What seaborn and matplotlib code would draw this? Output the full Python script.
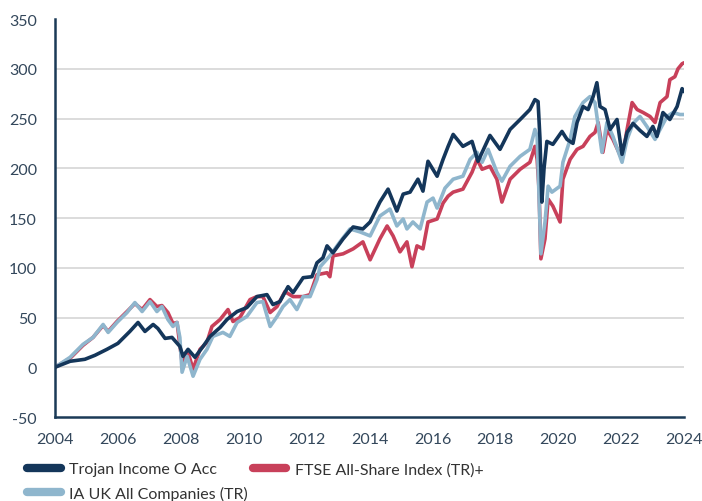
import matplotlib
matplotlib.use("Agg")
import matplotlib.pyplot as plt
import seaborn as sns
import pandas as pd

# ---- data ----
trojan_years = [2004.00, 2004.48, 2004.95, 2005.27, 2005.65, 2006.00, 2006.38, 2006.64, 2006.86, 2007.12,
                2007.27, 2007.50, 2007.72, 2007.97, 2008.07, 2008.23, 2008.45, 2008.71, 2008.93, 2009.25,
                2009.47, 2009.79, 2010.10, 2010.42, 2010.74, 2010.93, 2011.15, 2011.41, 2011.57, 2011.89,
                2012.17, 2012.33, 2012.52, 2012.65, 2012.84, 2013.16, 2013.48, 2013.79, 2014.02, 2014.33,
                2014.59, 2014.87, 2015.07, 2015.29, 2015.54, 2015.70, 2015.86, 2016.15, 2016.34, 2016.50,
                2016.66, 2016.97, 2017.26, 2017.45, 2017.83, 2018.15, 2018.47, 2018.79, 2019.10, 2019.26,
                2019.36, 2019.42, 2019.48, 2019.55, 2019.64, 2019.83, 2020.12, 2020.28, 2020.47, 2020.60,
                2020.79, 2020.95, 2021.11, 2021.23, 2021.33, 2021.49, 2021.65, 2021.87, 2022.03, 2022.19,
                2022.38, 2022.60, 2022.82, 2023.01, 2023.14, 2023.33, 2023.55, 2023.78, 2023.94, 2024.00]
trojan_values = [0, 6, 8, 12, 18, 24, 36, 45, 36, 43,
                 39, 29, 30, 21, 11, 18, 10, 21, 31, 40,
                 48, 56, 60, 71, 73, 63, 66, 81, 75, 90,
                 91, 105, 110, 122, 115, 129, 141, 139, 146, 166,
                 179, 157, 174, 176, 189, 177, 207, 192, 209, 222,
                 234, 222, 227, 207, 233, 219, 239, 249, 259, 269,
                 267, 230, 166, 200, 227, 224, 237, 229, 225, 246,
                 262, 259, 272, 286, 262, 259, 239, 249, 214, 236,
                 245, 238, 232, 242, 232, 256, 249, 262, 280, 277]

ia_years = [2004.00, 2004.48, 2004.89, 2005.21, 2005.53, 2005.69, 2005.97, 2006.29, 2006.54, 2006.77,
            2007.02, 2007.24, 2007.40, 2007.59, 2007.75, 2007.88, 2007.97, 2008.04, 2008.20, 2008.39,
            2008.61, 2008.83, 2009.02, 2009.34, 2009.56, 2009.79, 2010.10, 2010.42, 2010.61, 2010.84,
            2011.06, 2011.25, 2011.47, 2011.69, 2011.89, 2012.11, 2012.33, 2012.43, 2012.74, 2013.06,
            2013.38, 2013.70, 2014.02, 2014.33, 2014.65, 2014.87, 2015.07, 2015.19, 2015.38, 2015.61,
            2015.83, 2016.02, 2016.15, 2016.40, 2016.66, 2016.97, 2017.20, 2017.42, 2017.58, 2017.77,
            2018.05, 2018.21, 2018.47, 2018.79, 2019.10, 2019.26, 2019.33, 2019.39, 2019.45, 2019.58,
            2019.68, 2019.80, 2020.06, 2020.15, 2020.38, 2020.53, 2020.79, 2021.01, 2021.17, 2021.39,
            2021.55, 2021.74, 2022.03, 2022.19, 2022.38, 2022.60, 2022.82, 2023.08, 2023.24, 2023.46,
            2023.65, 2023.87, 2024.00]
ia_values = [0, 10, 23, 30, 43, 35, 45, 55, 65, 56,
             66, 56, 61, 48, 41, 45, 30, -5, 11, -9,
             8, 18, 31, 35, 31, 45, 51, 65, 66, 41,
             51, 61, 68, 58, 71, 71, 88, 101, 112, 126,
             139, 136, 132, 152, 159, 142, 149, 139, 146, 139,
             166, 170, 160, 180, 189, 192, 209, 216, 206, 219,
             196, 187, 202, 212, 219, 239, 232, 172, 114, 146,
             182, 176, 182, 206, 229, 252, 266, 272, 266, 216,
             246, 232, 206, 229, 245, 252, 242, 229, 239, 252,
             256, 254, 254]

ftse_years = [2004.00, 2004.48, 2004.89, 2005.21, 2005.53, 2005.69, 2005.97, 2006.29, 2006.54, 2006.77,
              2007.02, 2007.24, 2007.40, 2007.59, 2007.75, 2007.88, 2008.04, 2008.23, 2008.39, 2008.61,
              2008.83, 2008.99, 2009.25, 2009.50, 2009.66, 2009.88, 2010.20, 2010.42, 2010.61, 2010.84,
              2011.06, 2011.31, 2011.57, 2011.89, 2012.11, 2012.33, 2012.65, 2012.74, 2012.84, 2013.16,
              2013.48, 2013.79, 2014.02, 2014.33, 2014.56, 2014.75, 2014.97, 2015.19, 2015.35, 2015.51,
              2015.70, 2015.86, 2016.15, 2016.34, 2016.50, 2016.66, 2016.97, 2017.26, 2017.42, 2017.58,
              2017.83, 2018.05, 2018.21, 2018.47, 2018.79, 2019.10, 2019.26, 2019.33, 2019.39, 2019.45,
              2019.58, 2019.68, 2019.83, 2020.06, 2020.15, 2020.38, 2020.60, 2020.79, 2021.01, 2021.17,
              2021.27, 2021.42, 2021.55, 2021.74, 2022.03, 2022.19, 2022.35, 2022.51, 2022.70, 2022.92,
              2023.08, 2023.24, 2023.46, 2023.55, 2023.71, 2023.81, 2023.94, 2024.00]
ftse_values = [0, 9, 22, 30, 42, 36, 46, 56, 64, 58,
               68, 61, 62, 55, 44, 45, 5, 15, -2, 18,
               25, 41, 48, 58, 46, 50, 68, 71, 71, 55,
               61, 76, 71, 71, 73, 93, 95, 91, 112, 114,
               119, 126, 108, 129, 142, 132, 116, 126, 101, 122,
               119, 146, 149, 165, 172, 176, 179, 196, 209, 199,
               202, 189, 166, 189, 199, 206, 222, 209, 179, 109,
               129, 169, 162, 146, 189, 209, 219, 222, 232, 236,
               246, 216, 239, 229, 209, 239, 266, 259, 256, 252,
               246, 266, 272, 289, 292, 300, 305, 306]

series_names = ["Trojan Income O Acc", "FTSE All-Share Index (TR)+", "IA UK All Companies (TR)"]
series_colors = ["#14365a", "#c8405a", "#8fb6cd"]
y_ticks = [-50, 0, 50, 100, 150, 200, 250, 300, 350]
x_ticks = [2004, 2006, 2008, 2010, 2012, 2014, 2016, 2018, 2020, 2022, 2024]

# ---- build frames ----
df_trojan = pd.DataFrame({"year": trojan_years, "value": trojan_values})
df_ftse = pd.DataFrame({"year": ftse_years, "value": ftse_values})
df_ia = pd.DataFrame({"year": ia_years, "value": ia_values})

sns.set_theme(style="white")
plt.rcParams["font.family"] = ["Lato", "DejaVu Sans"]

fig = plt.figure(figsize=(7.02, 5.02), dpi=100)
ax = fig.add_axes([55 / 702, 1 - 418 / 502, 629 / 702, 398 / 502])

lw = 2.6
sns.lineplot(data=df_ftse, x="year", y="value", ax=ax, color=series_colors[1], lw=lw,
             label=series_names[1], legend=False)
sns.lineplot(data=df_ia, x="year", y="value", ax=ax, color=series_colors[2], lw=lw,
             label=series_names[2], legend=False)
sns.lineplot(data=df_trojan, x="year", y="value", ax=ax, color=series_colors[0], lw=lw,
             label=series_names[0], legend=False)

ax.set_xlim(2004, 2024)
ax.set_ylim(-50, 350)
ax.set_xticks(x_ticks)
ax.set_xticklabels([str(t) for t in x_ticks])
ax.set_yticks(y_ticks)
ax.set_yticklabels([str(t) for t in y_ticks])
ax.set_xlabel("")
ax.set_ylabel("")

ax.yaxis.grid(True, color="#d9d9d9", lw=1.3)
ax.xaxis.grid(False)
ax.set_axisbelow(True)
gl = ax.get_ygridlines()
gl[-1].set_visible(False)
gl[0].set_visible(False)

for side in ["top", "right"]:
    ax.spines[side].set_visible(False)
for side in ["left", "bottom"]:
    ax.spines[side].set_color("#1b3a57")
    ax.spines[side].set_linewidth(1.8)

ax.tick_params(axis="both", length=0, labelsize=11.5, colors="#33475b")
ax.tick_params(axis="y", pad=13)
ax.tick_params(axis="x", pad=11)

# legend: order Trojan, IA (column 1), FTSE (column 2)
lines = {l.get_label(): l for l in ax.get_lines()}
handles = [lines[series_names[0]], lines[series_names[2]], lines[series_names[1]]]
labels = [series_names[0], series_names[2], series_names[1]]
leg = fig.legend(handles, labels, loc="upper left", bbox_to_anchor=(27 / 702, 1 - 463 / 502),
                 ncol=2, frameon=False, fontsize=11.5, handlelength=2.1, handletextpad=0.55,
                 columnspacing=0.3, labelspacing=0.6, borderpad=0, borderaxespad=0)
for h in leg.legend_handles:
    h.set_linewidth(6)
    h.set_solid_capstyle("round")
for t in leg.get_texts():
    t.set_color("#333333")

fig.savefig("out.png", dpi=100)
